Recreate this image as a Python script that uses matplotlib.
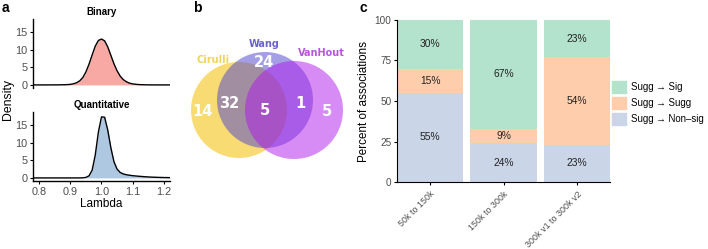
import matplotlib
matplotlib.use("Agg")
import matplotlib.pyplot as plt
from matplotlib.patches import Circle, Patch
import numpy as np

plt.rcParams['font.family'] = ['Liberation Sans', 'DejaVu Sans']

# ---------------- data ----------------
# panel a: density curves
lam_x = [0.78, 0.80, 0.82, 0.84, 0.86, 0.88, 0.89, 0.90, 0.91, 0.92, 0.93, 0.94, 0.95, 0.96,
         0.97, 0.98, 0.99, 1.00, 1.01, 1.02, 1.03, 1.04, 1.05, 1.06, 1.07, 1.08, 1.09,
         1.10, 1.11, 1.12, 1.13, 1.14, 1.16, 1.18, 1.20, 1.22]
binary_density = [0.0, 0.0, 0.0, 0.01, 0.02, 0.05, 0.09, 0.16, 0.32, 0.62, 1.15, 2.1, 3.7, 5.9,
                  8.5, 11.0, 12.6, 13.0, 12.5, 10.8, 8.4, 6.0, 4.0, 2.5, 1.5, 0.9, 0.5,
                  0.3, 0.17, 0.1, 0.06, 0.03, 0.01, 0.0, 0.0, 0.0]
quant_density = [0.0, 0.0, 0.0, 0.0, 0.0, 0.0, 0.0, 0.0, 0.0, 0.0, 0.01, 0.03, 0.15, 0.6,
                 2.2, 6.5, 13.0, 17.3, 17.2, 13.6, 8.6, 4.6, 2.5, 1.55, 1.12, 0.9, 0.76,
                 0.64, 0.55, 0.47, 0.4, 0.33, 0.23, 0.16, 0.11, 0.08]
density_ticks_x = [0.8, 0.9, 1.0, 1.1, 1.2]
density_ticks_y = [0, 5, 10, 15]

# panel b: Venn counts
venn_sets = ["Cirulli", "Wang", "VanHout"]
venn_only_cirulli = 14
venn_only_wang = 24
venn_only_vanhout = 5
venn_cirulli_wang = 32
venn_wang_vanhout = 1
venn_all = 5

# panel c: stacked bars
categories = ["50k to 150k", "150k to 300k", "300k v1 to 300k v2"]
pct_nonsig = [55, 24, 23]
pct_sugg = [15, 9, 54]
pct_sig = [30, 67, 23]
legend_labels = ["Sugg \u2192 Sig", "Sugg \u2192 Sugg", "Sugg \u2192 Non\u2013sig"]

# ---------------- figure ----------------
W, H = 708, 249
fig = plt.figure(figsize=(W / 100, H / 100), dpi=100)

def px_axes(left, top, right, bottom):
    return fig.add_axes([left / W, 1 - bottom / H, (right - left) / W, (bottom - top) / H])

tick_col = '#4d4d4d'
tick_fs = 7.8

# ---- panel a ----
ax_top = px_axes(33, 19.3, 170, 88.1)
ax_bot = px_axes(33, 112.3, 170, 181.1)
for ax, dens, col, title in [(ax_top, binary_density, '#F8A9A3', 'Binary'),
                             (ax_bot, quant_density, '#AFC8E2', 'Quantitative')]:
    ax.fill_between(lam_x, 0, dens, color=col, lw=0)
    ax.plot(lam_x, dens, color='black', lw=1.0)
    ax.set_xlim(0.78, 1.22)
    ax.set_ylim(-0.9, 18.6)
    ax.set_yticks(density_ticks_y)
    ax.set_xticks(density_ticks_x)
    for s in ['top', 'right']:
        ax.spines[s].set_visible(False)
    ax.spines['left'].set_linewidth(1.0)
    ax.tick_params(axis='both', labelsize=tick_fs, labelcolor=tick_col, length=2.5, width=0.8,
                   pad=1.5, color='black')
    ax.set_title(title, fontsize=7, fontweight='bold', pad=3)
ax_top.spines['bottom'].set_visible(False)
ax_top.tick_params(axis='x', bottom=False, labelbottom=False)
ax_bot.spines['bottom'].set_linewidth(1.0)
ax_bot.set_xlabel('Lambda', fontsize=8.5, labelpad=1)
fig.text(8 / W, 1 - 100 / H, 'Density', rotation=90, fontsize=8.8, ha='center', va='center')
fig.text(2 / W, 1 - 8 / H, 'a', fontsize=10, fontweight='bold', ha='left', va='center')

# ---- panel b ----
axv = px_axes(185, 0, 360, 249)
axv.set_xlim(185, 360)
axv.set_ylim(249, 0)
axv.axis('off')
axv.add_patch(Circle((239, 110), 48, color='#F7D65A', alpha=0.85, lw=0))
axv.add_patch(Circle((265, 100), 48, color='#4B41CD', alpha=0.5, lw=0))
axv.add_patch(Circle((294, 110), 49, color='#AE1AEB', alpha=0.5, lw=0))
num_kw = dict(color='white', fontsize=10.5, fontweight='bold', ha='center', va='center',
              family='DejaVu Sans')
axv.text(203, 111, str(venn_only_cirulli), **num_kw)
axv.text(229, 103, str(venn_cirulli_wang), **num_kw)
axv.text(265, 110, str(venn_all), **num_kw)
axv.text(300, 103, str(venn_wang_vanhout), **num_kw)
axv.text(327, 111, str(venn_only_vanhout), **num_kw)
axv.text(264, 62, str(venn_only_wang), **num_kw)
lab_kw = dict(fontsize=7, fontweight='bold', ha='center', va='center', family='DejaVu Sans')
axv.text(213, 60, venn_sets[0], color='#EED55C', **lab_kw)
axv.text(264, 44, venn_sets[1], color='#6D63CC', **lab_kw)
axv.text(321, 53, venn_sets[2], color='#B955E0', **lab_kw)
fig.text(193 / W, 1 - 8 / H, 'b', fontsize=10, fontweight='bold', ha='left', va='center')

# ---- panel c ----
axc = px_axes(397, 20, 610, 182)
colors = {'sig': '#B3E2CD', 'sugg': '#FDCDAC', 'nonsig': '#CBD5E8'}
x = np.arange(len(categories))
axc.bar(x, pct_nonsig, width=0.9, color=colors['nonsig'], lw=0)
axc.bar(x, pct_sugg, width=0.9, bottom=pct_nonsig, color=colors['sugg'], lw=0)
bottom3 = [a + b for a, b in zip(pct_nonsig, pct_sugg)]
axc.bar(x, pct_sig, width=0.9, bottom=bottom3, color=colors['sig'], lw=0)
for i in range(len(categories)):
    axc.text(x[i], pct_nonsig[i] / 2, f'{pct_nonsig[i]}%', ha='center', va='center',
             fontsize=7.4, color='#222222')
    axc.text(x[i], pct_nonsig[i] + pct_sugg[i] / 2, f'{pct_sugg[i]}%', ha='center',
             va='center', fontsize=7.4, color='#222222')
    axc.text(x[i], bottom3[i] + pct_sig[i] / 2, f'{pct_sig[i]}%', ha='center', va='center',
             fontsize=7.4, color='#222222')
axc.set_xlim(-0.45, 2.45)
axc.set_ylim(0, 100)
axc.set_yticks([0, 25, 50, 75, 100])
axc.set_xticks(x)
axc.set_xticklabels(categories, rotation=45, ha='right', rotation_mode='anchor')
for s in ['top', 'right']:
    axc.spines[s].set_visible(False)
axc.tick_params(axis='both', labelsize=6.4, labelcolor=tick_col, length=2.5, width=0.8,
                pad=1.5)
axc.tick_params(axis='x', pad=3)
axc.tick_params(axis='y', labelsize=7.2)
axc.set_ylabel('Percent of associations', fontsize=8.4, labelpad=3)
handles = [Patch(color=colors['sig']), Patch(color=colors['sugg']), Patch(color=colors['nonsig'])]
fig.legend(handles, legend_labels, loc='center left', bbox_to_anchor=(610 / W, 1 - 103 / H),
           frameon=False, fontsize=6.9, handlelength=1.5, handleheight=1.5, handletextpad=0.5,
           labelspacing=0.45, borderaxespad=0, borderpad=0.2)
fig.text(360 / W, 1 - 8 / H, 'c', fontsize=10, fontweight='bold', ha='left', va='center')

fig.savefig('out.png', dpi=100)
